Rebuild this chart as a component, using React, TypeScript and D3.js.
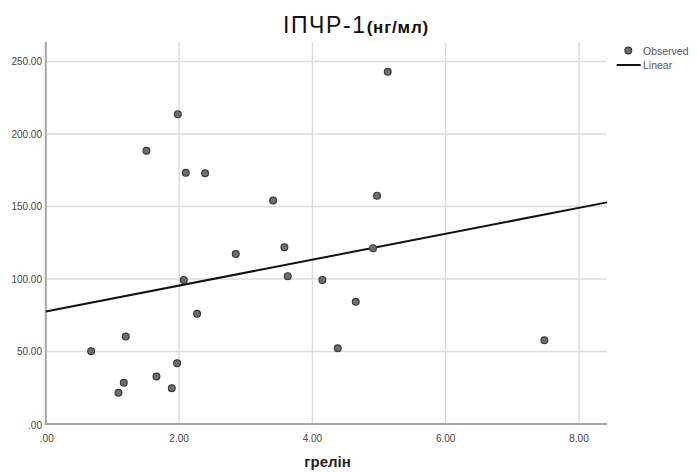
import React from "react";
import * as d3 from "d3";

const ghrelin = [1.98, 1.51, 2.10, 2.39, 3.41, 5.13, 4.97, 2.85, 3.58, 3.63, 4.15, 2.07, 2.27, 1.20, 0.68, 4.38, 1.97, 1.66, 1.17, 1.09, 1.89, 4.91, 4.65, 7.48];
const ipchr = [213.6, 188.5, 173.3, 172.9, 154.2, 242.9, 157.5, 117.2, 122.0, 102.0, 99.4, 99.4, 76.0, 60.3, 50.2, 52.3, 41.9, 32.7, 28.5, 21.6, 24.7, 121.3, 84.3, 57.8];
const xTicks = [0, 2, 4, 6, 8];
const yTicks = [0, 50, 100, 150, 200, 250];
const linearFit = { intercept: 77.6, slope: 8.94 };
const legendLabels = ["Observed", "Linear"];

const W = 697;
const H = 472;
const font = "Arial, 'Liberation Sans', sans-serif";

const fmt = (v: number) => {
  const s = d3.format(".2f")(v);
  return s.startsWith("0.") ? s.slice(1) : s;
};

export default function App() {
  const x = d3.scaleLinear().domain([0, 8.42]).range([45.8, 607]);
  const y = d3.scaleLinear().domain([0, 263.5]).range([424, 42]);
  const [x0, x1] = x.domain();
  const line = d3
    .line<number>()
    .x((d) => x(d))
    .y((d) => y(linearFit.intercept + linearFit.slope * d));

  return (
    <svg
      width={W}
      height={H}
      style={{ position: "absolute", left: 0, top: 0, background: "#fff" }}
    >
      {/* gridlines */}
      {yTicks.filter((t) => t > 0).map((t) => (
        <line key={"gy" + t} x1={x(0)} x2={x(x1)} y1={y(t)} y2={y(t)} stroke="#dcdcdc" strokeWidth={1.5} />
      ))}
      {xTicks.filter((t) => t > 0).map((t) => (
        <line key={"gx" + t} x1={x(t)} x2={x(t)} y1={y(0)} y2={y(263.5)} stroke="#dcdcdc" strokeWidth={1.5} />
      ))}
      {/* axes */}
      <line x1={x(0)} x2={x(0)} y1={y(0) + 1} y2={y(263.5)} stroke="#a6a6a6" strokeWidth={2} />
      <line x1={x(0) - 1} x2={x(x1)} y1={y(0)} y2={y(0)} stroke="#a6a6a6" strokeWidth={2} />
      {/* tick labels */}
      {yTicks.map((t) => (
        <text key={"ty" + t} x={42} y={y(t) + (t === 0 ? 1.5 : 0)} dy="0.35em" textAnchor="end" fontSize={10} fill="#444" fontFamily={font}>
          {fmt(t)}
        </text>
      ))}
      {xTicks.map((t) => (
        <text key={"tx" + t} x={x(t) + (t === 0 ? 1 : 0)} y={438} dy="0.35em" textAnchor="middle" fontSize={10} fill="#444" fontFamily={font}>
          {fmt(t)}
        </text>
      ))}
      {/* fit line */}
      <path d={line([x0, x1]) || ""} stroke="#111" strokeWidth={2} fill="none" />
      {/* points */}
      {ghrelin.map((g, i) => (
        <circle key={i} cx={x(g)} cy={y(ipchr[i])} r={3.4} fill="#6e6e6e" stroke="#3a3a3a" strokeWidth={1.2} />
      ))}
      {/* title */}
      <text x={283} y={33} fontFamily={font} fill="#111">
        <tspan fontSize={23} letterSpacing={1.6}>ІПЧР-1</tspan>
        <tspan fontSize={17} fontWeight="bold" letterSpacing={0.8}>(нг/мл)</tspan>
      </text>
      {/* x axis title */}
      <text x={327.5} y={467} textAnchor="middle" fontSize={15} fontWeight="bold" fill="#222" fontFamily={font}>
        грелін
      </text>
      {/* legend */}
      <circle cx={628.3} cy={50.5} r={3.4} fill="#6e6e6e" stroke="#3a3a3a" strokeWidth={1.2} />
      <text x={643} y={51.5} dy="0.35em" fontSize={10.5} fill="#555" fontFamily={font}>{legendLabels[0]}</text>
      <line x1={616.7} x2={640.7} y1={65} y2={65} stroke="#111" strokeWidth={2} />
      <text x={643} y={65.5} dy="0.35em" fontSize={10.5} fill="#555" fontFamily={font}>{legendLabels[1]}</text>
    </svg>
  );
}
